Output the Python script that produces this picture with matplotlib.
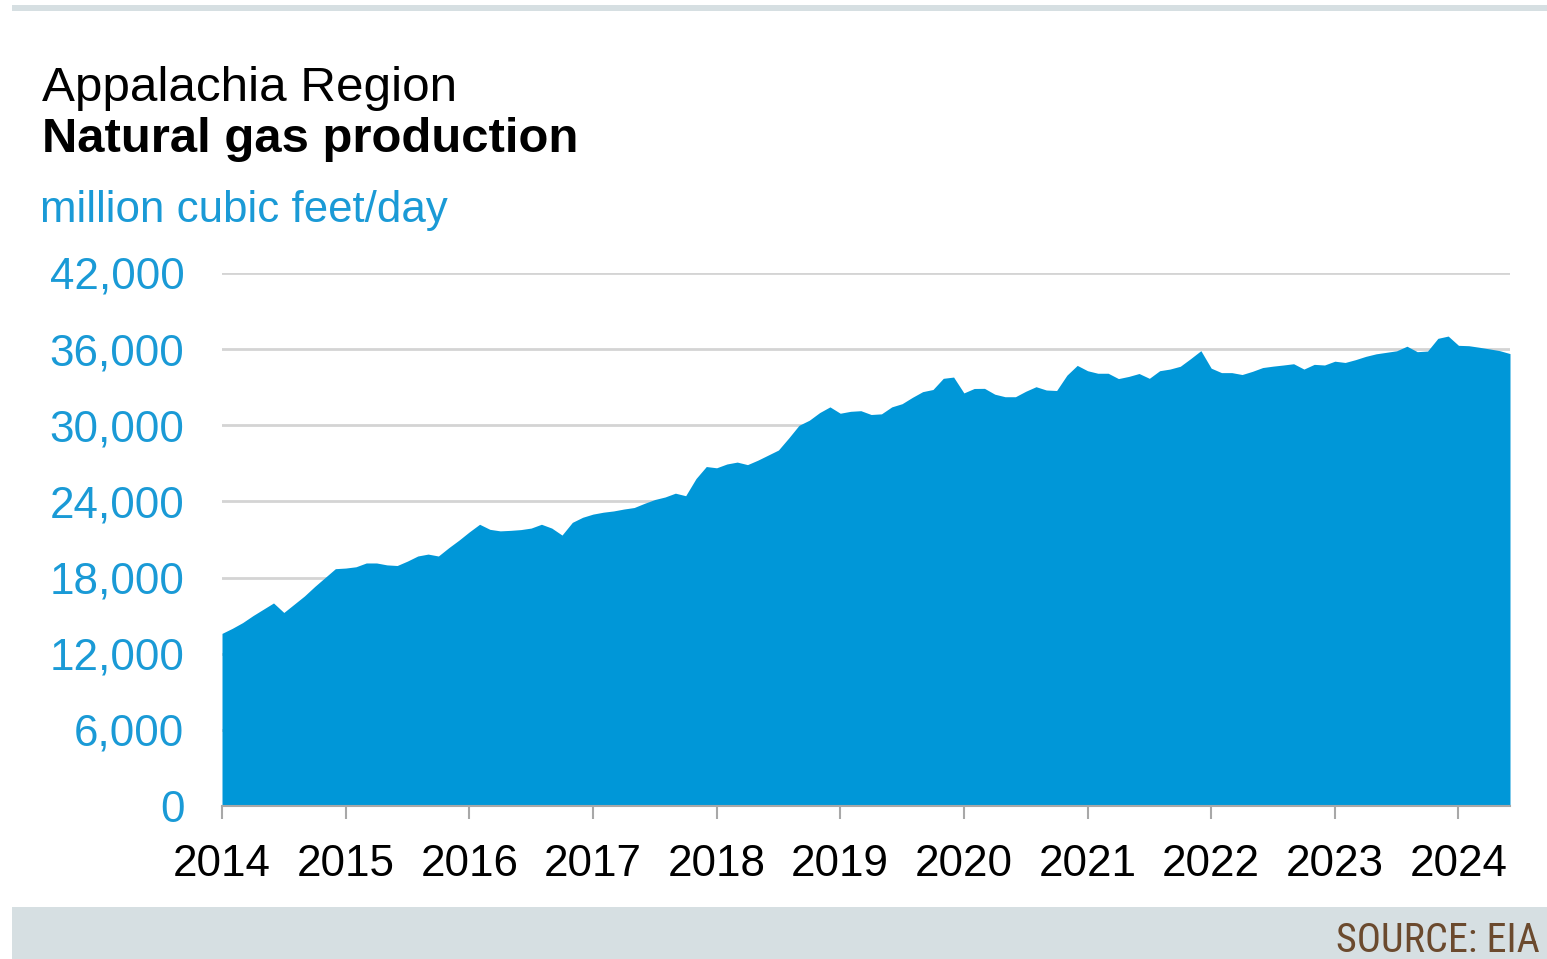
import matplotlib
matplotlib.use("Agg")
import matplotlib.pyplot as plt
from matplotlib.patches import Rectangle
from matplotlib.ticker import FuncFormatter
from matplotlib import font_manager
import numpy as np

# Monthly Appalachia natural gas production, Jan 2014 - Jun 2024 (million cubic feet/day)
start_year = 2014
production = [
    13600, 14000, 14450, 15000, 15500, 16000, 15250, 15900, 16550, 17300, 18000, 18700,  # 2014
    18750, 18850, 19150, 19150, 19000, 18950, 19300, 19700, 19850, 19700, 20350, 20950,  # 2015
    21600, 22200, 21800, 21680, 21720, 21780, 21900, 22200, 21900, 21350, 22350, 22750,  # 2016
    23000, 23150, 23250, 23400, 23520, 23850, 24150, 24350, 24650, 24450, 25800, 26750,  # 2017
    26650, 26950, 27100, 26900, 27250, 27650, 28050, 29000, 30000, 30400, 31000, 31450,  # 2018
    30950, 31100, 31150, 30850, 30900, 31450, 31700, 32200, 32650, 32820, 33700, 33800,  # 2019
    32550, 32900, 32910, 32450, 32250, 32250, 32680, 33040, 32780, 32740, 33950, 34720,  # 2020
    34300, 34100, 34100, 33680, 33850, 34080, 33700, 34300, 34430, 34650, 35250, 35880,  # 2021
    34500, 34150, 34150, 34000, 34250, 34550, 34660, 34750, 34850, 34430, 34800, 34750,  # 2022
    35050, 34950, 35170, 35430, 35630, 35750, 35870, 36230, 35800, 35850, 36850, 37030,  # 2023
    36300, 36270, 36150, 36020, 35880, 35650,                                            # 2024
]
year_ticks = list(range(2014, 2025))
y_ticks = [0, 6000, 12000, 18000, 24000, 30000, 36000, 42000]

title_line1 = "Appalachia Region"
title_line2 = "Natural gas production"
unit_label = "million cubic feet/day"
source_label = "SOURCE: EIA"

FILL = "#0097d8"
BLUE_TXT = "#1a9ad6"
GRID = "#d4d4d4"
BAR = "#d6dfe2"

plt.rcParams["font.family"] = ["Liberation Sans", "DejaVu Sans"]


def _is_regular(f):
    lname = f.fname.lower()
    return (f.style == "normal" and f.weight in (400, "normal", "regular")
            and "italic" not in lname and "oblique" not in lname
            and "bold" not in lname and "light" not in lname)


# find a condensed / narrow upright font for the source note
narrow_fp = None
for pref in ["Liberation Sans Narrow", "Open Sans Condensed", "Roboto Condensed",
             "DejaVu Sans Condensed", "Noto Sans Condensed"]:
    for f in font_manager.fontManager.ttflist:
        if f.name == pref and _is_regular(f):
            narrow_fp = f.fname
            break
    if narrow_fp:
        break
if narrow_fp is None:
    for f in font_manager.fontManager.ttflist:
        lname = f.fname.lower()
        if ("condensed" in lname or "narrow" in lname) and _is_regular(f):
            narrow_fp = f.fname
            break

W, H = 1547, 959
fig = plt.figure(figsize=(W / 100, H / 100), dpi=100)
fig.patch.set_facecolor("white")

# decorative bars
fig.add_artist(Rectangle((12 / W, 1 - 11 / H), 1 - 12 / W, 6 / H, transform=fig.transFigure,
                         facecolor=BAR, edgecolor="none"))
fig.add_artist(Rectangle((12 / W, 0), 1 - 12 / W, (959 - 907) / H, transform=fig.transFigure,
                         facecolor=BAR, edgecolor="none"))

ax = fig.add_axes([222 / W, 1 - 806 / H, (1510 - 222) / W, (806 - 273) / H])
x = np.array([start_year + i / 12 for i in range(len(production))])
y = np.array(production)
ax.fill_between(x, 0, y, color=FILL, linewidth=0, zorder=2)

ax.set_xlim(x[0], x[-1])
ax.set_ylim(0, 42000)
ax.set_yticks(y_ticks)
ax.yaxis.set_major_formatter(FuncFormatter(lambda v, p: f"{int(v):,}"))
ax.set_xticks(year_ticks)
ax.set_xticklabels([str(t) for t in year_ticks])

ax.grid(axis="y", color=GRID, linewidth=2, zorder=1)
ax.set_axisbelow(True)
for s in ["top", "right", "left"]:
    ax.spines[s].set_visible(False)
ax.spines["bottom"].set_color("#a8a8a8")
ax.spines["bottom"].set_linewidth(1.5)
ax.spines["bottom"].set_zorder(3)

ax.tick_params(axis="y", length=0, pad=27, labelsize=31.7, labelcolor=BLUE_TXT)
ax.tick_params(axis="x", length=9, width=1.5, color="#a8a8a8", pad=18, labelsize=31.7,
               labelcolor="black", direction="out")

fig.text(42 / W, 1 - 101 / H, title_line1, fontsize=35.6, color="black", va="baseline", ha="left")
fig.text(42 / W, 1 - 152 / H, title_line2, fontsize=35.3, color="black", fontweight="bold",
         va="baseline", ha="left")
fig.text(40 / W, 1 - 222 / H, unit_label, fontsize=31.6, color=BLUE_TXT, va="baseline", ha="left")

if narrow_fp:
    src_fp = font_manager.FontProperties(fname=narrow_fp, size=29)
else:
    src_fp = font_manager.FontProperties(family="Liberation Sans", size=25)
fig.text(1540 / W, 1 - 952 / H, source_label, fontproperties=src_fp, color="#6b4a2e",
         va="baseline", ha="right")

fig.savefig("out.png", dpi=100, facecolor="white")
